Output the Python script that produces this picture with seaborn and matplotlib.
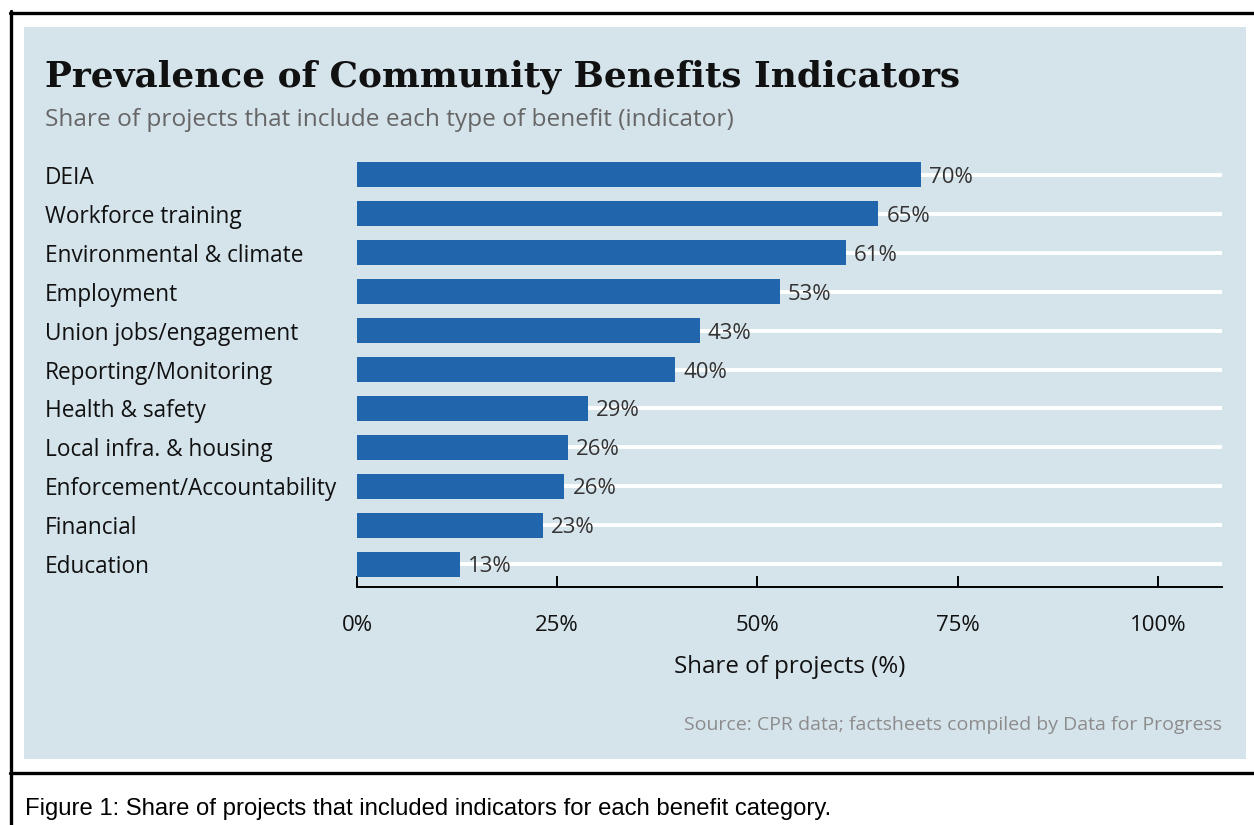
import matplotlib
matplotlib.use("Agg")
import matplotlib.pyplot as plt
import seaborn as sns
import pandas as pd
from matplotlib.lines import Line2D
from matplotlib.patches import Rectangle

# ---------------- data ----------------
categories = [
    "DEIA",
    "Workforce training",
    "Environmental & climate",
    "Employment",
    "Union jobs/engagement",
    "Reporting/Monitoring",
    "Health & safety",
    "Local infra. & housing",
    "Enforcement/Accountability",
    "Financial",
    "Education",
]
values = [70.4, 65.1, 61.0, 52.8, 42.8, 39.7, 28.8, 26.3, 25.9, 23.2, 12.8]
value_labels = ["70%", "65%", "61%", "53%", "43%", "40%", "29%", "26%", "26%", "23%", "13%"]
x_ticks = [0, 25, 50, 75, 100]
x_tick_labels = ["0%", "25%", "50%", "75%", "100%"]

title = "Prevalence of Community Benefits Indicators"
subtitle = "Share of projects that include each type of benefit (indicator)"
x_label = "Share of projects (%)"
source = "Source: CPR data; factsheets compiled by Data for Progress"
caption = "Figure 1: Share of projects that included indicators for each benefit category."

# ---------------- style ----------------
sns.set_style("white")
plt.rcParams["font.family"] = ["Open Sans", "DejaVu Sans"]

W, H = 1254, 825
fig = plt.figure(figsize=(W / 100, H / 100), dpi=100)
fig.patch.set_facecolor("white")

PANEL = "#d5e3eb"
BAR = "#2166ac"

# panel background
fig.patches.append(Rectangle((24 / W, 1 - 759 / H), (1246 - 24) / W, (759 - 27) / H,
                             transform=fig.transFigure, facecolor=PANEL,
                             edgecolor="none", zorder=-5))
# outer frame lines
fig.add_artist(Line2D([10 / W, 1.0], [1 - 12.5 / H] * 2, color="black", lw=2.4))
fig.add_artist(Line2D([11 / W] * 2, [1 - 11 / H, 0.0], color="black", lw=2.4))
fig.add_artist(Line2D([10 / W, 1.0], [1 - 773 / H] * 2, color="black", lw=2.4))

# ---------------- axes ----------------
ax = fig.add_axes([357 / W, 1 - 587 / H, (1222 - 357) / W, (587 - 152) / H])
ax.set_zorder(3)
ax.patch.set_visible(False)

df = pd.DataFrame({"category": categories, "share": values})
sns.barplot(data=df, x="share", y="category", orient="h", color=BAR,
            saturation=1, width=0.64, ax=ax, zorder=3, linewidth=0)

ax.set_xlim(0, 108)
ax.set_ylim(len(categories) - 1 + 0.577, -0.577)

ax.yaxis.grid(True, color="white", lw=2.8)
ax.xaxis.grid(False)
ax.set_axisbelow(True)

for s in ["top", "right", "left"]:
    ax.spines[s].set_visible(False)
ax.spines["bottom"].set_color("black")
ax.spines["bottom"].set_linewidth(1.4)

ax.set_xticks(x_ticks, x_tick_labels)
ax.tick_params(axis="x", bottom=True, direction="in", length=8, width=1.4, pad=20,
               labelsize=16, color="black", labelcolor="#111111")
ax.tick_params(axis="y", left=False, length=0, pad=(357 - 45) * 72 / 100,
               labelsize=16.3, labelcolor="#111111")
for lab in ax.get_yticklabels():
    lab.set_ha("left")

ax.set_ylabel("")
ax.set_xlabel(x_label, fontsize=17.4, color="#111111", labelpad=13.5)

texts = ax.bar_label(ax.containers[0], labels=value_labels, padding=5.8,
                     fontsize=16, color="#333333")
for t in texts:
    t.set_va("center_baseline")

# ---------------- texts ----------------
fig.text(45 / W, 1 - 87 / H, title, fontfamily="DejaVu Serif", fontweight="bold",
         fontsize=25.8, color="#111111", va="baseline", ha="left")
fig.text(45 / W, 1 - 126 / H, subtitle, fontsize=17.6, color="#666666",
         va="baseline", ha="left")
fig.text(1222 / W, 1 - 730 / H, source, fontsize=14, color="#8c8c8c",
         va="baseline", ha="right")
fig.text(25 / W, 1 - 815 / H, caption, fontfamily=["Liberation Sans", "DejaVu Sans"],
         fontsize=17.2, color="black", va="baseline", ha="left")

fig.savefig("out.png", dpi=100, facecolor="white")
